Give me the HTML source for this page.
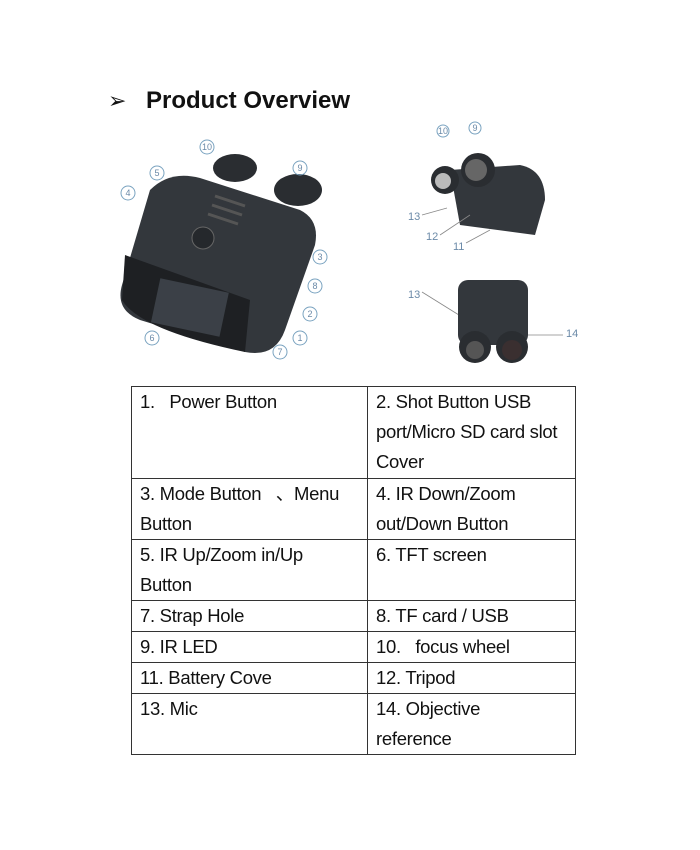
<!DOCTYPE html>
<html><head><meta charset="utf-8"><style>
body{margin:0;background:#fff;width:700px;height:850px;position:relative;overflow:hidden;font-family:"Liberation Sans",Arial,sans-serif;}
.t{position:absolute;left:146px;top:87px;font-size:24px;font-weight:bold;color:#111;}
.a{position:absolute;left:108px;top:88px;font-size:22px;color:#111;}
table{position:absolute;left:131px;top:386px;border-collapse:collapse;width:445px;}
td{border:1.5px solid #333;vertical-align:top;font-size:18.5px;line-height:30px;padding:0 8px;color:#111;letter-spacing:-0.3px}
td.l{width:219px}
</style></head><body>
<div class="a">➢</div>
<div class="t">Product Overview</div>
<svg width="700" height="380" style="position:absolute;left:0;top:0" font-family="Liberation Sans" fill="none">
<ellipse cx="235" cy="168" rx="22" ry="14" fill="#2a2d31"/>
<ellipse cx="298" cy="190" rx="24" ry="16" fill="#2a2d31"/>
<path d="M150 190 Q170 170 200 178 L300 210 Q320 220 315 245 L285 330 Q275 358 245 352 L140 320 Q115 310 122 285 Z" fill="#33373c"/>
<path d="M125 255 L250 300 L245 352 Q140 330 122 300 Z" fill="#1e2023"/>
<rect x="155" y="285" width="70" height="45" fill="#3b4047" transform="rotate(12 190 307)"/>
<circle cx="203" cy="238" r="11" fill="#25282c" stroke="#666"/>
<g stroke="#555" stroke-width="3"><line x1="215" y1="196" x2="245" y2="206"/><line x1="212" y1="205" x2="242" y2="215"/><line x1="208" y1="214" x2="238" y2="224"/></g>
<g fill="none" stroke="#7aa3c0" stroke-width="1"><circle cx="207" cy="147" r="7"/><circle cx="157" cy="173" r="7"/><circle cx="128" cy="193" r="7"/><circle cx="300" cy="168" r="7"/><circle cx="320" cy="257" r="7"/><circle cx="315" cy="286" r="7"/><circle cx="310" cy="314" r="7"/><circle cx="300" cy="338" r="7"/><circle cx="152" cy="338" r="7"/><circle cx="280" cy="352" r="7"/></g>
<g fill="#6b8aa8" font-size="9" text-anchor="middle"><text x="207" y="150">10</text><text x="157" y="176">5</text><text x="128" y="196">4</text><text x="300" y="171">9</text><text x="320" y="260">3</text><text x="315" y="289">8</text><text x="310" y="317">2</text><text x="300" y="341">1</text><text x="152" y="341">6</text><text x="280" y="355">7</text><text x="443" y="134">10</text><text x="475" y="131">9</text></g>
<path d="M450 170 L520 165 Q545 170 545 200 L535 235 L460 225 Z" fill="#33373c"/>
<circle cx="445" cy="180" r="14" fill="#2a2d31"/><circle cx="443" cy="181" r="8" fill="#bbb"/>
<circle cx="478" cy="170" r="17" fill="#2a2d31"/><circle cx="476" cy="170" r="11" fill="#666"/>
<g fill="#6b8aa8" font-size="11"><text x="408" y="220">13</text><text x="426" y="240">12</text><text x="453" y="250">11</text><text x="408" y="298">13</text><text x="566" y="337">14</text></g>
<g stroke="#888" stroke-width="0.8"><line x1="422" y1="215" x2="447" y2="208"/><line x1="440" y1="235" x2="470" y2="215"/><line x1="466" y1="243" x2="490" y2="230"/><line x1="422" y1="292" x2="475" y2="325"/><line x1="525" y1="335" x2="563" y2="335"/></g>
<g fill="none" stroke="#7aa3c0"><circle cx="443" cy="131" r="6"/><circle cx="475" cy="128" r="6"/></g>
<rect x="458" y="280" width="70" height="65" rx="10" fill="#33373c"/>
<circle cx="475" cy="347" r="16" fill="#2a2d31"/><circle cx="512" cy="347" r="16" fill="#2a2d31"/>
<circle cx="475" cy="350" r="9" fill="#555"/><circle cx="512" cy="350" r="10" fill="#3a2f30"/>
</svg>
<table>
<tr style="height:92px"><td class="l">1.&nbsp;&nbsp; Power Button</td><td>2. Shot Button USB port/Micro SD card slot Cover</td></tr>
<tr style="height:61px"><td class="l">3. Mode Button&nbsp;&nbsp;&nbsp;、Menu Button</td><td>4. IR Down/Zoom out/Down Button</td></tr>
<tr style="height:61px"><td class="l">5. IR Up/Zoom in/Up<br>Button</td><td>6. TFT screen</td></tr>
<tr style="height:31px"><td class="l">7. Strap Hole</td><td>8. TF card / USB</td></tr>
<tr style="height:31px"><td class="l">9. IR LED</td><td>10.&nbsp;&nbsp; focus wheel</td></tr>
<tr style="height:31px"><td class="l">11. Battery Cove</td><td>12. Tripod</td></tr>
<tr style="height:60px"><td class="l">13. Mic</td><td>14. Objective<br>reference</td></tr>
</table>
</body></html>
